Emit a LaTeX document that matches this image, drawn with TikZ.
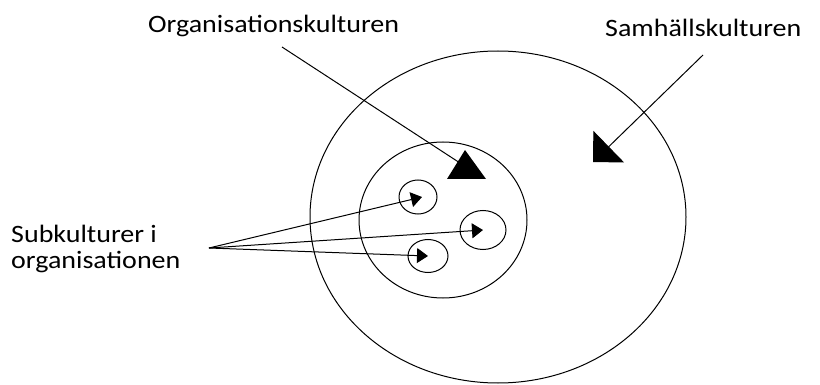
\documentclass[tikz,border=0pt]{standalone}
\usepackage{fontspec}
\setmainfont{Carlito}[FakeStretch=1.12]
\usetikzlibrary{shapes.geometric,arrows.meta,positioning}
\tikzset{
  ring/.style={ellipse,draw,line width=1pt,inner sep=0pt},
  txt/.style={font=\fontsize{25}{26}\selectfont,inner sep=0pt,anchor=base west},
  arrow/.style={-{Triangle[length=11pt,width=15pt]},line width=1pt},
}

\begin{document}
\begin{tikzpicture}[x=1pt,y=-1pt,
  bigarrow/.style={-{Triangle[length=22pt,width=44pt]},line width=1pt}]
  \useasboundingbox (0,0) rectangle (820,385);

  % the cultures, one within the other
  \node[ring,minimum width=376pt,minimum height=332pt] (samh) at (498,217) {};
  \node[ring,minimum width=168pt,minimum height=156pt] (org)  at (443,220) {};
  \node[ring,minimum width=38pt,minimum height=34pt]   (sub1) at (418,197) {};
  \node[ring,minimum width=46pt,minimum height=39pt]   (sub2) at (483,230) {};
  \node[ring,minimum width=40pt,minimum height=33pt]   (sub3) at (428,256) {};

  % labels
  \node[txt] (orgtxt)  at (148,33)  {Organisationskulturen};
  \node[txt] (samhtxt) at (605,37)  {Samhällskulturen};
  \node[txt,align=left] (subtxt) at (11,268) {Subkulturer i\\organisationen};

  \coordinate (orgfrom)  at (282,47);
  \coordinate (orgend)   at (460,163);
  \coordinate (orgtip)   at (465,150);
  \coordinate (samhfrom) at (703,55);
  \coordinate (samhtip)  at (593,162);
  \coordinate (subfrom)  at (209,248);

  \draw[line width=1pt] (orgfrom) -- (orgend);
  \fill (orgtip) -- ++(-18,29) -- ++(39,0) -- cycle;
  \draw[bigarrow] (samhfrom) -- (samhtip);

  \draw[arrow] (subfrom) -- ([xshift=4pt]sub1.center);
  \draw[arrow] (subfrom) -- (sub2.center);
  \draw[arrow] (subfrom) -- (sub3.center);
\end{tikzpicture}
\end{document}
